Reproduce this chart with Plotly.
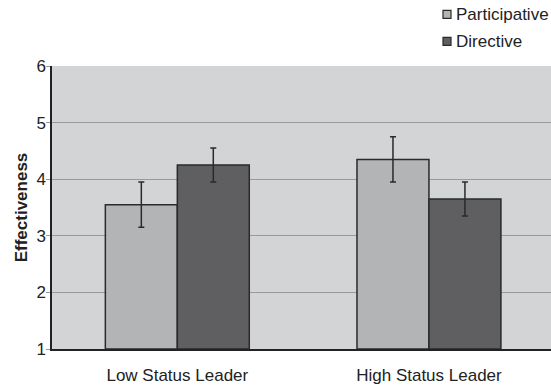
import plotly.graph_objects as go

categories = ["Low Status Leader", "High Status Leader"]
participative = [3.55, 4.35]
participative_err = [0.40, 0.40]
directive = [4.25, 3.65]
directive_err = [0.30, 0.30]
series_names = ["Participative", "Directive"]
series_colors = ["#b3b4b6", "#5f5f61"]
y_ticks = [1, 2, 3, 4, 5, 6]

FONT = "Liberation Sans, Arial, sans-serif"
W, H = 551, 385
PL, PR, PT, PB = 52, 551, 65.7, 349.3


def px_x(v):
    return (v - PL) / (PR - PL)


def px_y(v):
    return (PB - v) / (PB - PT)


fig = go.Figure()
for name, vals, errs, color in [
    (series_names[0], participative, participative_err, series_colors[0]),
    (series_names[1], directive, directive_err, series_colors[1]),
]:
    fig.add_trace(go.Bar(
        x=categories, y=[v - 1 for v in vals], base=1, name=name,
        marker=dict(color=color, line=dict(color="#2a2a2a", width=1.5)),
        error_y=dict(type="data", array=errs, color="#2a2a2a", thickness=1.5, width=3),
        showlegend=False,
    ))

# legend drawn as small boxes + labels (to match reference spacing)
legend_y = [14, 41]
for name, color, yy in zip(series_names, series_colors, legend_y):
    fig.add_shape(type="rect", xref="paper", yref="paper",
                  x0=px_x(443), x1=px_x(451),
                  y0=px_y(yy + 4), y1=px_y(yy - 4),
                  fillcolor=color, line=dict(color="#2a2a2a", width=1.2))
    fig.add_annotation(text=name, xref="paper", yref="paper",
                       x=px_x(454), y=px_y(yy),
                       xanchor="left", yanchor="middle", showarrow=False,
                       font=dict(size=17, color="#222"))

fig.update_layout(
    width=W, height=H,
    margin=dict(l=PL, r=W - PR, t=PT, b=H - PB, autoexpand=False),
    paper_bgcolor="white", plot_bgcolor="#d3d4d6",
    barmode="group", bargap=0.428, bargroupgap=0,
    font=dict(family=FONT, size=17, color="#222"),
    showlegend=False,
    xaxis=dict(range=[-0.498, 1.485], showgrid=False, showline=True,
               linecolor="#222", linewidth=1.5, ticks="", tickfont=dict(size=17),
               ticklabelstandoff=10),
    yaxis=dict(range=[1, 6], tickvals=y_ticks, showgrid=True, gridcolor="#9a9a9a",
               gridwidth=1, showline=True, linecolor="#222", linewidth=1.5,
               ticks="outside", ticklen=4, tickcolor="#9a9a9a",
               tickfont=dict(size=17), zeroline=False, ticklabelstandoff=-3,
               title=dict(text="<b>Effectiveness</b>", font=dict(size=17), standoff=4)),
)

fig.write_html(
    "out.html",
    config={"displayModeBar": False},
    post_script="document.body.style.margin='0';document.body.style.overflow='hidden';",
)
